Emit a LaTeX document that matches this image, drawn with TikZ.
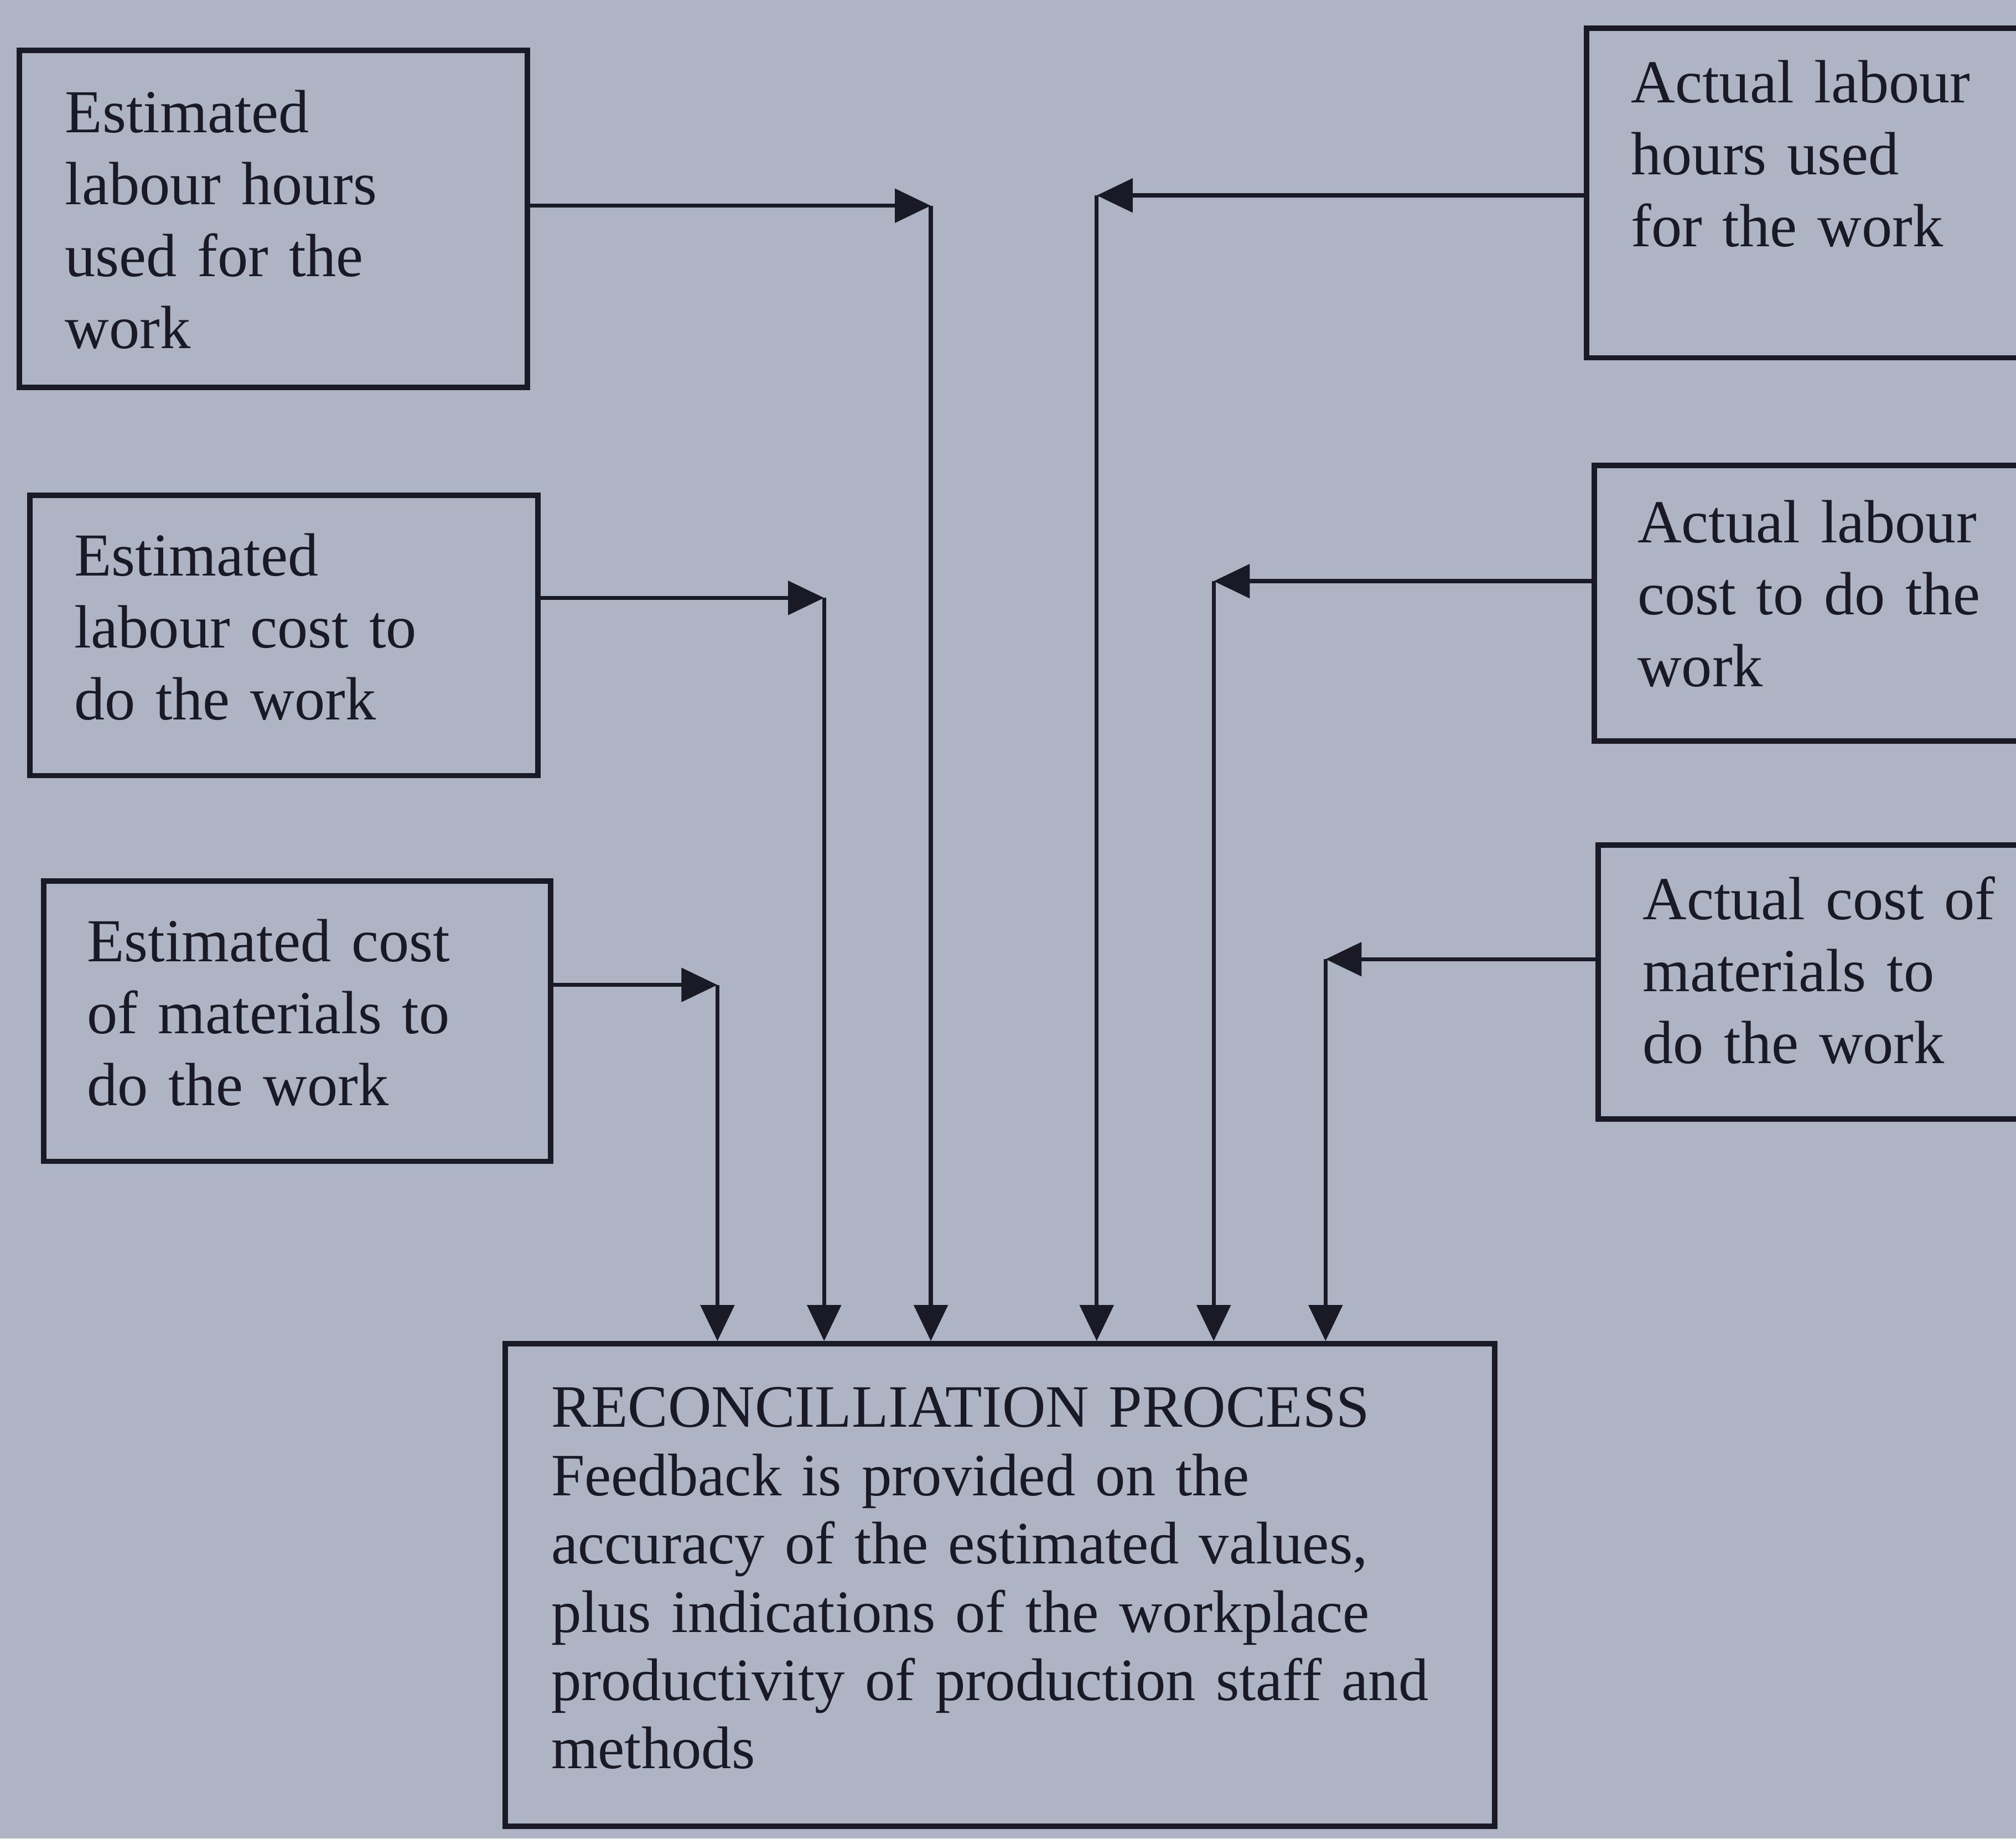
\documentclass[tikz,border=0pt]{standalone}
\usepackage{fontspec}
\setmainfont[WordSpace=0.8]{Liberation Serif}
\usetikzlibrary{arrows.meta}
\definecolor{paper}{RGB}{174,180,195}
\definecolor{ink}{RGB}{26,26,38}
\begin{document}
\begin{tikzpicture}[x=0.01cm,y=-0.01cm,
  box/.style={draw=ink, line width=1.2pt, inner sep=0pt, anchor=north west},
  lbl/.style={anchor=base west, inner sep=0pt, text width=3.7cm, align=left,
    text=ink, font=\fontsize{13.5}{15.9}\selectfont},
  rlbl/.style={anchor=base west, inner sep=0pt, text width=7.3cm, align=left,
    text=ink, font=\fontsize{13.3}{15.1}\selectfont},
  conn/.style={draw=ink, line width=0.9pt},
  tip/.style={-{Triangle[length=2.8mm, width=2.6mm]}}]

\useasboundingbox (0,0) rectangle (1568,1430);
\clip (0,0) rectangle (1568,1430);
\fill[paper] (0,0) rectangle (1568,1430);

% estimate boxes (left)
\node[box, minimum width=3.95cm, minimum height=2.62cm] (e1) at (13,37) {};
\node[box, minimum width=3.95cm, minimum height=2.18cm] (e2) at (21,383) {};
\node[box, minimum width=3.94cm, minimum height=2.18cm] (e3) at (32,683) {};
\node[lbl] (e1t) at (50,103) {Estimated\\labour hours\\used for the\\work};
\node[lbl] (e2t) at (57,448) {Estimated\\labour cost to\\do the work};
\node[lbl] (e3t) at (67,748) {Estimated cost\\of materials to\\do the work};

% actual boxes (right), running off the edge
\node[box, minimum width=4.00cm, minimum height=2.56cm] (a1) at (1232,20) {};
\node[box, minimum width=4.00cm, minimum height=2.14cm] (a2) at (1238,360) {};
\node[box, minimum width=4.00cm, minimum height=2.13cm] (a3) at (1241,655) {};
\node[lbl] (a1t) at (1268,80) {Actual labour\\hours used\\for the work};
\node[lbl] (a2t) at (1273,422) {Actual labour\\cost to do the\\work};
\node[lbl] (a3t) at (1277,715) {Actual cost of\\materials to\\do the work};

% reconciliation box
\node[box, minimum width=7.69cm, minimum height=3.75cm] (r) at (391,1043) {};
\node[rlbl] (rt) at (428,1110) {RECONCILLIATION PROCESS\\Feedback is provided on the\\accuracy of the estimated values,\\plus indications of the workplace\\productivity of production staff and\\methods};

% bend points of the connectors
\coordinate (c1) at (724,160);
\coordinate (c2) at (641,465);
\coordinate (c3) at (558,766);
\coordinate (k1) at (853,152);
\coordinate (k2) at (944,452);
\coordinate (k3) at (1031,746);

\foreach \src/\bend in {e1/c1, e2/c2, e3/c3} {
  \draw[conn, tip] (\src.east |- \bend) -- (\bend);
  \draw[conn, tip] (\bend) -- (\bend |- r.north);
}
\foreach \src/\bend in {a1/k1, a2/k2, a3/k3} {
  \draw[conn, tip] (\src.west |- \bend) -- (\bend);
  \draw[conn, tip] (\bend) -- (\bend |- r.north);
}
\end{tikzpicture}
\end{document}
